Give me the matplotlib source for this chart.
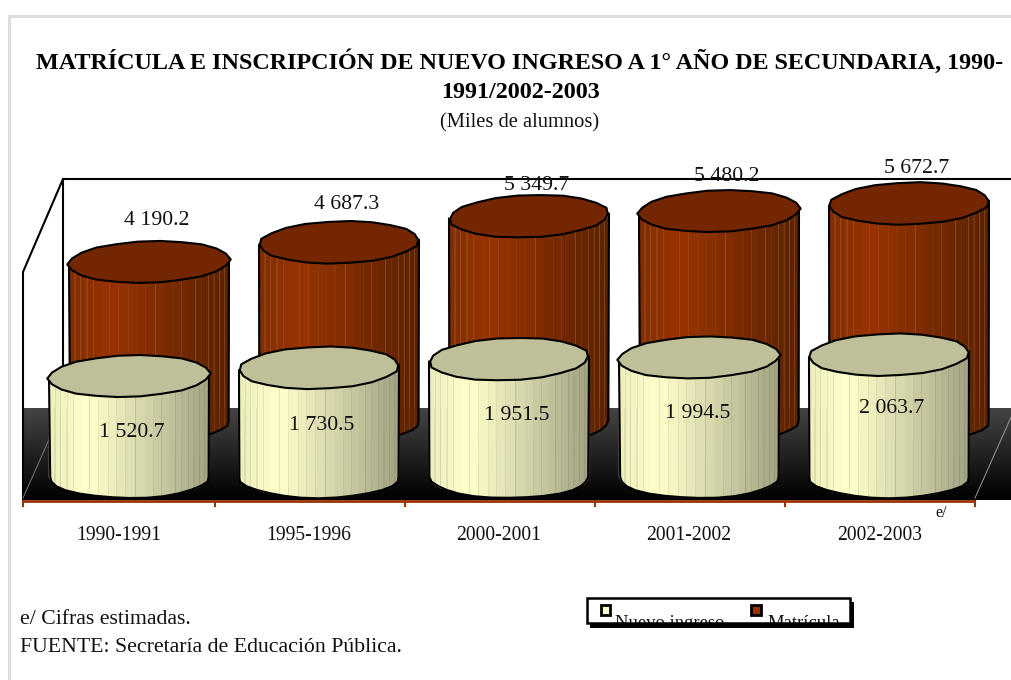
import numpy as np
import matplotlib
matplotlib.use("Agg")
import matplotlib.pyplot as plt
from matplotlib.patches import Rectangle
from matplotlib.colors import LinearSegmentedColormap

categories = ["1990-1991", "1995-1996", "2000-2001", "2001-2002", "2002-2003"]
nuevo_ingreso = [1520.7, 1730.5, 1951.5, 1994.5, 2063.7]
matricula = [4190.2, 4687.3, 5349.7, 5480.2, 5672.7]
labels_ni = ["1 520.7", "1 730.5", "1 951.5", "1 994.5", "2 063.7"]
labels_ma = ["4 190.2", "4 687.3", "5 349.7", "5 480.2", "5 672.7"]
title_1 = "MATRÍCULA E INSCRIPCIÓN DE NUEVO INGRESO A 1° AÑO DE SECUNDARIA, 1990-"
title_2 = "1991/2002-2003"
subtitle = "(Miles de alumnos)"

W, H = 1012, 680
plt.rcParams['font.family'] = ['Liberation Serif', 'DejaVu Serif']
fig = plt.figure(figsize=(W/100, H/100), dpi=100)

px = fig.add_axes([0, 0, 1, 1]); px.set_xlim(0, W); px.set_ylim(H, 0); px.axis('off')

def value_axes(c0, y0, s, z):
    ax = fig.add_axes([0, 0, 1, 1], zorder=z)
    ax.set_xlim(-c0/190, (W-c0)/190)
    ax.set_ylim((y0-H)/s, y0/s)
    ax.axis('off'); ax.patch.set_alpha(0)
    return ax

SB, SF = 0.03946, 0.0393
back = value_axes(149, 427.3, SB, 2)
front = value_axes(129, 435.8, SF, 3)

def shade(c_left, c_mid, c_right):
    return LinearSegmentedColormap.from_list('c', [(0, c_left), (0.25, c_mid), (1, c_right)])

# irregular facet edges of the drum, as fractions of its width
facets = [0, .035, .07, .11, .15, .2, .25, .31, .37, .42, .48, .54, .6, .655, .7, .75, .79, .83, .87, .905, .94, .97, 1]
ruled = [.035, .07, .11, .15, .25, .54, .7, .79, .87, .905, .94, .97]

def cylinder(ax, i, v, base, s, cmap, topc, linec):
    rx, ry = 80/190, 21/s
    tilt = 2.5/s
    n = 22
    th = np.linspace(0, 2*np.pi, n+1)
    wob = 1 + 0.022*np.cos(5*th + 2*i) * np.cos(3*th)
    ex, ey = rx*np.cos(th)*wob, ry*np.sin(th)*wob + tilt*np.cos(th)
    for k in range(len(facets)-1):
        f0, f1 = facets[k], facets[k+1]
        a = np.arccos(np.linspace(2*f0-1, 2*f1-1, 3))
        xs = rx*np.cos(a)
        lo = ry*np.sin(a)
        tl = tilt*np.cos(a)
        col = cmap((f0+f1)/2)
        ax.fill(np.r_[i+xs, i+xs[::-1]], np.r_[v-lo+tl, (base-lo)[::-1]], color=col, lw=0.3, ec=col, zorder=1)
    for f in ruled:
        a = np.arccos(2*f-1)
        x = rx*np.cos(a)
        lo = ry*np.sin(a)
        ax.plot([i+x, i+x], [v-lo+tilt*np.cos(a), base-lo], color=linec, lw=0.5, alpha=0.3, zorder=1.5)
    # drum outline with its chamfered bottom edge
    a = np.linspace(np.pi, 2*np.pi, 15)
    wb = 1 + 0.015*np.cos(5*a + 2*i)
    bx = np.clip(rx*np.cos(a)*wb, -rx*0.995, rx*0.995)
    ax.plot(np.r_[i-rx, i+bx, i+rx], np.r_[v-tilt, base+ry*np.sin(a)*wb, v+tilt], color='black', lw=1.5, zorder=2, solid_joinstyle='round')
    ax.fill(i+ex, v+ey, fc=topc, ec='black', lw=1.5, zorder=3, joinstyle='round')

# frame
px.add_patch(Rectangle((9, 16), W, 700, fc='white', ec='#dedede', lw=2.2))

# floor and walls
px.imshow(np.linspace(0, 1, 92)[:, None], extent=(23, W, 500, 408), aspect='auto',
          cmap=LinearSegmentedColormap.from_list('f', ['#444444', '#000000']), zorder=1)
px.set_xlim(0, W); px.set_ylim(H, 0)
px.plot([W, 63, 63], [179, 179, 408], color='black', lw=1.5, zorder=1.2)
px.plot([63, 23, 23], [179, 272, 500], color='black', lw=1.5, zorder=1.2)
px.plot([23, 63], [498, 408], color='#777777', lw=0.7, zorder=1.3)
px.plot([975, W], [498, 415], color='#999999', lw=0.7, zorder=1.3)

# x axis
px.plot([23, 975], [500.5, 500.5], color='#993300', lw=2, zorder=1.4, solid_capstyle='butt')
for x in [23, 215, 405, 595, 785, 975]:
    px.plot([x, x], [500, 507], color='#993300', lw=1.5, zorder=1.4, solid_capstyle='butt')
for k, c in enumerate(categories):
    px.text(118.5 + 190.2*k, 535, c, ha='center', va='center', fontsize=14.1, color='#111111')
px.text(941, 513, "e/", ha='center', va='center', fontsize=11.5, color='#111111')

back_base = (427.3-421)/SB
front_base = (435.8-477)/SF
cm_back = shade('#7f2d00', '#993300', '#5a2200')
cm_front = shade('#eeeebd', '#ffffcc', '#a3a383')
for i, v in enumerate(matricula):
    cylinder(back, i, v, back_base, SB, cm_back, '#732600', '#c98a66')
for i, v in enumerate(nuevo_ingreso):
    cylinder(front, i, v, front_base, SF, cm_front, '#bfbf99', '#8f8f78')

rise_back = [41, 38, 31, 35, 35]
for i, (v, t) in enumerate(zip(matricula, labels_ma)):
    back.text(i + 8/190, v + rise_back[i]/SB, t, ha='center', va='center', fontsize=15.7, color='#111111', zorder=5)
drop_front = [56, 58, 56, 56, 54]
shift_front = [3, 3, 8, -1, 3]
for i, (v, t) in enumerate(zip(nuevo_ingreso, labels_ni)):
    front.text(i + shift_front[i]/190, v - drop_front[i]/SF, t, ha='center', va='center', fontsize=15.7, color='#111111', zorder=5)

# titles and notes
txt = fig.add_axes([0, 0, 1, 1], zorder=6); txt.set_xlim(0, W); txt.set_ylim(H, 0); txt.axis('off'); txt.patch.set_alpha(0)
txt.text(520, 62, title_1, ha='center', va='center', fontsize=17.4, fontweight='bold', color='black')
txt.text(521, 93, title_2, ha='center', va='center', fontsize=17.4, fontweight='bold', color='black')
txt.text(520, 123, subtitle, ha='center', va='center', fontsize=14.8, color='#111111')
txt.text(20, 620, "e/ Cifras estimadas.", ha='left', va='center', fontsize=15.7, color='#111111')
txt.text(20, 647, "FUENTE: Secretaría de Educación Pública.", ha='left', va='center', fontsize=15.7, color='#111111')

# legend: its text runs past the box and is cut off by the shadow
txt.add_patch(Rectangle((587, 598), 263, 25, fc='white', ec='none', zorder=1))
txt.text(615, 628, "Nuevo ingreso", ha='left', va='baseline', fontsize=13.4, color='#111111', zorder=2)
txt.text(767, 628, "Matrícula", ha='left', va='baseline', fontsize=13.4, color='#111111', zorder=2)
txt.add_patch(Rectangle((590, 623), 264, 5, fc='black', ec='none', zorder=3))
txt.add_patch(Rectangle((850, 602), 4, 26, fc='black', ec='none', zorder=3))
txt.add_patch(Rectangle((586, 628), 274, 16, fc='white', ec='none', zorder=3))
txt.add_patch(Rectangle((587, 598), 263, 25, fc='none', ec='black', lw=1.8, zorder=4))
txt.add_patch(Rectangle((601, 605), 9, 10, fc='#ffffcc', ec='black', lw=2, zorder=4))
txt.add_patch(Rectangle((751, 605), 10, 10, fc='#993300', ec='black', lw=2, zorder=4))

fig.savefig("out.png", dpi=100)
